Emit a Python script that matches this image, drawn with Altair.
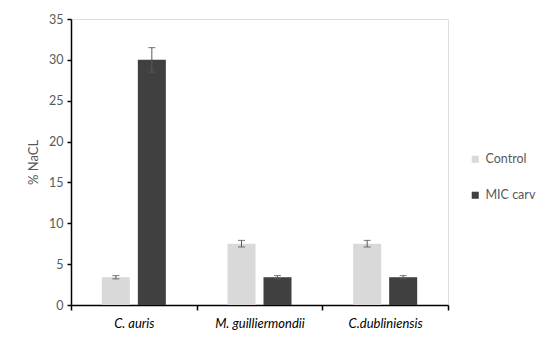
import altair as alt
import pandas as pd

species = ["C. auris", "M. guilliermondii", "C.dubliniensis"]
series = ["Control", "MIC carv"]
control = [3.4, 7.5, 7.5]
control_err = [0.2, 0.4, 0.4]
mic = [30.0, 3.4, 3.4]
mic_err = [1.5, 0.2, 0.2]
colors = ["#D9D9D9", "#404040"]

rows = []
for i, sp in enumerate(species):
    for s, vals, errs in ((series[0], control, control_err), (series[1], mic, mic_err)):
        rows.append({"species": sp, "series": s, "value": vals[i],
                     "lo": vals[i] - errs[i], "hi": vals[i] + errs[i]})
df = pd.DataFrame(rows)

FONT = "Lato"
xenc = alt.X("species:N", sort=species, title=None,
             scale=alt.Scale(paddingInner=0, paddingOuter=0),
             axis=alt.Axis(labelFont=FONT, labelFontSize=13, labelFontStyle="italic",
                           labelColor="#000000", labelAngle=0, labelPadding=7,
                           domainColor="#000000", domainWidth=1.5,
                           tickColor="#000000", tickWidth=1.5, tickSize=5,
                           tickBand="extent"))
xoff = alt.XOffset("series:N", sort=series,
                   scale=alt.Scale(paddingInner=0.222, paddingOuter=0.856))
yenc = alt.Y("value:Q", title="% NaCL",
             scale=alt.Scale(domain=[0, 35], nice=False),
             axis=alt.Axis(values=[0, 5, 10, 15, 20, 25, 30, 35], grid=False,
                           labelFont=FONT, labelFontSize=12.5, labelColor="#595959",
                           labelPadding=4, titleFont=FONT, titleFontSize=13,
                           titleFontWeight="normal", titleColor="#595959",
                           titlePadding=8, domainColor="#000000", domainWidth=1.5,
                           tickColor="#000000", tickWidth=1.5, tickSize=4))

bars = alt.Chart(df).mark_bar().encode(
    x=xenc, xOffset=xoff, y=yenc,
    color=alt.Color("series:N", sort=series,
                    scale=alt.Scale(domain=series, range=colors),
                    legend=alt.Legend(title=None, orient="none", legendX=398, legendY=134,
                                      symbolType="square", symbolSize=50,
                                      symbolStrokeWidth=0, labelFont=FONT,
                                      labelFontSize=12.5, labelColor="#595959",
                                      rowPadding=23, labelOffset=4)),
)

rules = alt.Chart(df).mark_rule(color="#595959", strokeWidth=1).encode(
    x=alt.X("species:N", sort=species), xOffset=xoff,
    y=alt.Y("lo:Q"), y2="hi:Q")

caps_lo = alt.Chart(df).mark_tick(color="#595959", size=7, thickness=1.2).encode(
    x=alt.X("species:N", sort=species), xOffset=xoff, y=alt.Y("lo:Q"))
caps_hi = alt.Chart(df).mark_tick(color="#595959", size=7, thickness=1.2).encode(
    x=alt.X("species:N", sort=species), xOffset=xoff, y=alt.Y("hi:Q"))

chart = alt.layer(bars, rules, caps_lo, caps_hi).properties(
    width=377, height=286,
    autosize=alt.AutoSizeParams(type="none"),
    padding={"left": 63, "top": 11, "right": 94, "bottom": 30},
).configure_view(stroke=None).configure(background="white")

chart.save("out.html", embed_options={"renderer": "svg", "actions": False})
